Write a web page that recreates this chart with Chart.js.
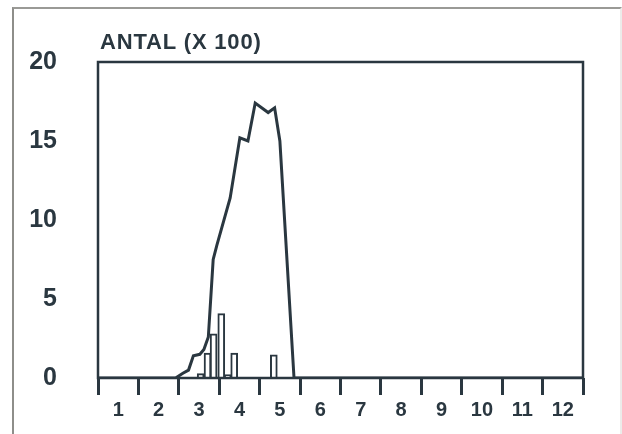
<!DOCTYPE html>
<html>
<head>
<meta charset="utf-8">
<script src="https://cdn.jsdelivr.net/npm/chart.js@4.4.1/dist/chart.umd.min.js"></script>
<style>
  html, body { margin: 0; padding: 0; background: #fff; }
  #wrap { position: relative; width: 622px; height: 434px; overflow: hidden; }
  #frame {
    position: absolute; left: 12px; top: 7px; width: 606px; height: 440px;
    border-left: 2px solid #8e8e8a; border-top: 2px solid #9a9a96; border-right: 2px solid #ececea;
  }
  #myChart { position: absolute; left: 0; top: 0; }
</style>
</head>
<body>
<div id="wrap">
  <div id="frame"></div>
  <canvas id="myChart" width="622" height="434"></canvas>
</div>
<script>
// month labels on the x axis
var months = ['1', '2', '3', '4', '5', '6', '7', '8', '9', '10', '11', '12'];
var yTicks = [0, 5, 10, 15, 20];

// line: position in months (0 = start of month 1), count x 100
var lineX = [0, 1.92, 2.1, 2.24, 2.36, 2.52, 2.62, 2.73, 2.85, 2.94, 3.27, 3.51, 3.71, 3.89, 4.21, 4.37, 4.5, 4.85, 12];
var lineY = [0, 0, 0.3, 0.5, 1.4, 1.5, 1.8, 2.6, 7.5, 8.4, 11.4, 15.2, 15.0, 17.4, 16.8, 17.1, 15.0, 0, 0];

// hollow bars
var barX = [2.54, 2.71, 2.86, 3.05, 3.21, 3.37, 4.35];
var barY = [0.28, 1.57, 2.8, 4.07, 0.22, 1.57, 1.46];

var ink = '#2a3740';
var fam = '"Liberation Sans", Arial, sans-serif';

var frameAndTitle = {
    id: 'frameAndTitle',
    afterDraw: function (chart) {
        var c = chart.ctx, a = chart.chartArea;
        c.save();
        c.strokeStyle = ink;
        c.lineWidth = 2.5;
        c.strokeRect(a.left, a.top, a.right - a.left, a.bottom - a.top);
        c.fillStyle = ink;
        c.font = 'bold 22px ' + fam;
        c.letterSpacing = '0.8px';
        c.textBaseline = 'middle';
        c.textAlign = 'left';
        c.fillText('ANTAL (X 100)', a.left + 2, a.top - 19);
        c.restore();
    }
};

var ctx = document.getElementById('myChart').getContext('2d');
var chart = new Chart(ctx, {
    type: 'line',
    data: {
        datasets: [{
            type: 'line',
            data: lineX.map(function (x, i) { return { x: x, y: lineY[i] }; }),
            borderColor: ink,
            borderWidth: 3,
            pointRadius: 0,
            tension: 0,
            fill: false,
            order: 1
        }, {
            type: 'bar',
            data: barX.map(function (x, i) { return { x: x, y: barY[i] }; }),
            backgroundColor: '#ffffff',
            borderColor: ink,
            borderWidth: 2,
            borderSkipped: 'bottom',
            barThickness: 7,
            order: 2
        }]
    },
    options: {
        responsive: false,
        animation: false,
        layout: { padding: { left: 0, right: 39, top: 62, bottom: 8 } },
        plugins: { legend: { display: false }, tooltip: { enabled: false } },
        scales: {
            x: {
                type: 'linear',
                min: 0,
                max: 12,
                offset: false,
                afterBuildTicks: function (scale) {
                    var t = [];
                    for (var i = 0; i <= 24; i++) t.push({ value: i / 2 });
                    scale.ticks = t;
                },
                afterFit: function (scale) { scale.height = 42; },
                border: { display: false },
                grid: {
                    offset: false,
                    drawOnChartArea: false,
                    drawTicks: true,
                    tickLength: 17,
                    lineWidth: 3,
                    color: function (c) { return c.tick && c.tick.value % 1 === 0 ? ink : 'rgba(0,0,0,0)'; },
                    tickColor: function (c) { return c.tick && c.tick.value % 1 === 0 ? ink : 'rgba(0,0,0,0)'; }
                },
                ticks: {
                    autoSkip: false,
                    maxRotation: 0,
                    padding: 3,
                    color: ink,
                    font: { family: fam, size: 20, weight: 'bold' },
                    callback: function (v) {
                        return v % 1 === 0.5 ? months[Math.floor(v)] : '';
                    }
                }
            },
            y: {
                min: 0,
                max: 20,
                afterBuildTicks: function (scale) {
                    scale.ticks = yTicks.map(function (v) { return { value: v }; });
                },
                afterFit: function (scale) { scale.width = 98; },
                border: { display: false },
                grid: { display: false, drawTicks: false },
                ticks: {
                    padding: 41,
                    color: ink,
                    font: { family: fam, size: 25, weight: 'bold' }
                }
            }
        }
    },
    plugins: [frameAndTitle]
});
</script>
</body>
</html>
